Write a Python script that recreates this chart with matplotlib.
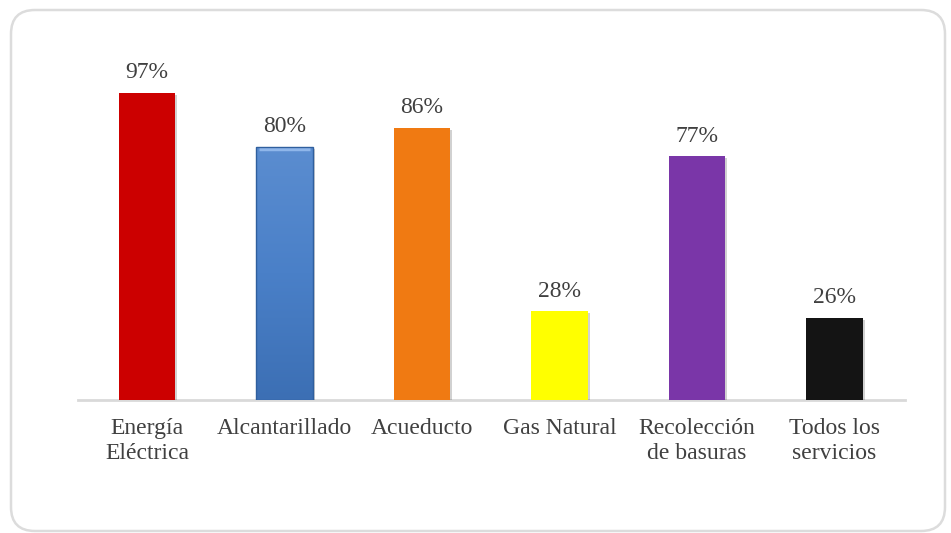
import matplotlib
matplotlib.use("Agg")
import matplotlib.pyplot as plt
import numpy as np
from matplotlib.patches import FancyBboxPatch
from matplotlib.colors import LinearSegmentedColormap
import matplotlib.patheffects as pe

categories = ["Energía\nEléctrica", "Alcantarillado", "Acueducto", "Gas Natural",
              "Recolección\nde basuras", "Todos los\nservicios"]
values = [97, 80, 86, 28, 77, 26]
colors = ["#CC0000", "#4A7FC6", "#F07A12", "#FFFF00", "#7A36A8", "#141414"]

plt.rcParams['font.family'] = ['Liberation Serif', 'DejaVu Serif']
W, H = 951, 533
fig = plt.figure(figsize=(W / 100, H / 100), dpi=100)

# background frame
bg = fig.add_axes([0, 0, 1, 1])
bg.set_xlim(0, W)
bg.set_ylim(H, 0)
bg.axis('off')
bg.add_patch(FancyBboxPatch((11, 10), 934, 521, boxstyle="round,pad=0,rounding_size=24",
                            facecolor="white", edgecolor="#dcdcdc", linewidth=1.8))

left, right = 78, 905
base, top = 400, 400 - 100 * 3.165
ax = fig.add_axes([left / W, (H - base) / H, (right - left) / W, (base - top) / H])
ax.patch.set_alpha(0)
x = list(range(len(categories)))
bars = ax.bar(x, values, width=0.41, color=colors, zorder=3,
              path_effects=[pe.SimplePatchShadow(offset=(1.5, -1.5), shadow_rgbFace="#000000", alpha=0.18),
                            pe.Normal()])

# gradient fill for the blue bar
b = bars[1]
bx, bw, bh = b.get_x(), b.get_width(), b.get_height()
cmap = LinearSegmentedColormap.from_list("blu", ["#3C6FB4", "#4A80C8", "#5B8DD0"])
grad = np.linspace(0, 1, 256).reshape(-1, 1)
im = ax.imshow(grad, cmap=cmap, aspect="auto", origin="lower",
               extent=(bx, bx + bw, 0, bh), zorder=4)
im.set_clip_path(b)
ax.plot([bx + 0.02, bx + bw - 0.02], [bh - 0.8, bh - 0.8], color="#8fb6ea", lw=2.5, zorder=5,
        solid_capstyle="butt")
ax.bar([x[1]], [values[1]], width=0.41, facecolor="none", edgecolor="#2f5f9e", linewidth=1.0, zorder=6)

ax.set_xlim((left - 147) / 137.5, (right - 147) / 137.5)
ax.set_ylim(0, 100)
for s in ["top", "right", "left"]:
    ax.spines[s].set_visible(False)
ax.spines["bottom"].set_color("#d9d9d9")
ax.spines["bottom"].set_linewidth(2)
ax.set_yticks([])
ax.set_xticks(x)
ax.set_xticklabels(categories, fontsize=17, color="#404040", linespacing=1.25)
ax.tick_params(axis='x', length=0, pad=13)

for xi, v in zip(x, values):
    ax.annotate(f"{v}%", (xi, v), xytext=(0, 7), textcoords="offset points",
                ha="center", va="bottom", fontsize=17, color="#404040")

fig.savefig("out.png", dpi=100)
